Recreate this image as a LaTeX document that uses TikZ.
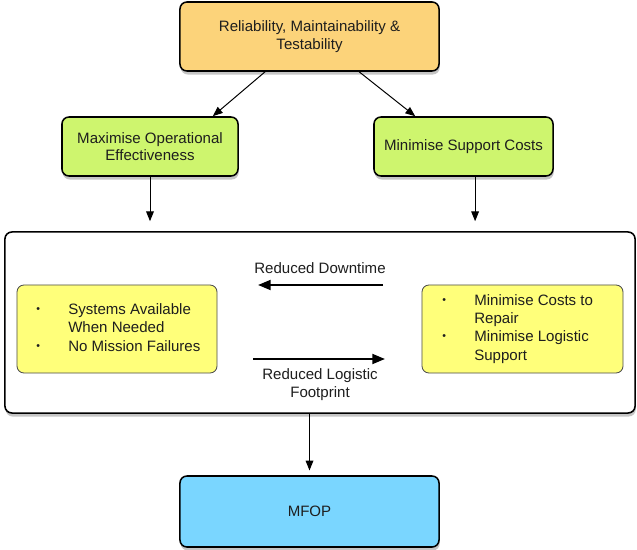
\documentclass[tikz,border=0pt]{standalone}
\usepackage{fontspec}
\setmainfont{Liberation Sans}
\usetikzlibrary{arrows.meta,shadows,calc}

\definecolor{rmtorange}{RGB}{252,211,122}
\definecolor{goalgreen}{RGB}{206,245,110}
\definecolor{listyellow}{RGB}{255,255,122}
\definecolor{mfopblue}{RGB}{122,214,255}
\definecolor{textgrey}{RGB}{30,30,30}

\newcommand{\lbullet}{\raisebox{0.25ex}{\scalebox{0.7}{\textbullet}}}

\tikzset{
  box/.style={draw=black, line width=1.1pt, rounded corners=5pt, align=center,
    text=textgrey, font=\fontsize{10.7}{12.4}\selectfont,
    drop shadow={shadow xshift=0.5pt, shadow yshift=-2.5pt, fill=black!45, opacity=0.5}},
  listbox/.style={draw=black!70, line width=0.6pt, rounded corners=5pt, fill=listyellow},
  txt/.style={text=textgrey, align=center, font=\fontsize{10.7}{12.4}\selectfont},
  listtxt/.style={text=textgrey, align=left, inner sep=0pt, font=\fontsize{10.7}{13.1}\selectfont},
  link/.style={-{Triangle[length=7pt,width=5.5pt]}, line width=0.7pt},
  flow/.style={-{Triangle[length=9pt,width=7pt]}, line width=1.6pt}
}

\begin{document}
\begin{tikzpicture}[x=0.025cm, y=-0.025cm]
\useasboundingbox (0,0) rectangle (637,550);

% top level
\node[box, fill=rmtorange, minimum width=6.475cm, minimum height=1.725cm] (rmt) at (309.5,36.5)
  {Reliability, Maintainability \&\\Testability};

% goals
\node[box, fill=goalgreen, minimum width=4.4cm, minimum height=1.475cm] (maxop) at (150,146.5)
  {Maximise Operational\\Effectiveness};
\node[box, fill=goalgreen, minimum width=4.475cm, minimum height=1.475cm] (minsup) at (463.5,146.5)
  {Minimise Support Costs};

% operations box
\node[box, fill=white, minimum width=15.75cm, minimum height=4.525cm] (ops) at (320,322.5) {};
\node[listbox, minimum width=5cm, minimum height=2.2cm] (lyel) at (117,329) {};
\node[listbox, minimum width=5.025cm, minimum height=2.2cm] (ryel) at (522.5,329) {};
\node[listtxt, anchor=west] (llist) at (36,329)
  {\begin{tabular}{@{}p{0.8cm}@{}l@{}}
  \lbullet & Systems Available\\ & When Needed\\ \lbullet & No Mission Failures
  \end{tabular}};
\node[listtxt, anchor=west] (rlist) at (442,329)
  {\begin{tabular}{@{}p{0.8cm}@{}l@{}}
  \lbullet & Minimise Costs to\\ & Repair\\ \lbullet & Minimise Logistic\\ & Support
  \end{tabular}};

\coordinate (dtstart) at (383,285);
\coordinate (dtend) at (258,285);
\coordinate (fpstart) at (253,359);
\coordinate (fpend) at (385,359);
\node[txt] (dtlabel) at (320,268) {Reduced Downtime};
\node[txt] (fplabel) at (320,384.5) {Reduced Logistic\\Footprint};

% result
\node[box, fill=mfopblue, minimum width=6.475cm, minimum height=1.775cm] (mfop) at (309.5,511.5) {MFOP};

% connectors
\draw[link] ([xshift=-1.11cm]rmt.south) -- ([xshift=-0.65cm]maxop.north east);
\draw[link] ([xshift=1.24cm]rmt.south) -- ([xshift=1.05cm]minsup.north west);
\draw[link, shorten >=0.25cm] (maxop.south) -- (maxop.south |- ops.north);
\draw[link, shorten >=0.25cm] ([xshift=0.29cm]minsup.south) -- ([xshift=0.29cm]minsup.south |- ops.north);
\draw[link, shorten >=0.12cm] (mfop.north |- ops.south) -- (mfop.north);
\draw[flow] (dtstart) -- (dtend);
\draw[flow] (fpstart) -- (fpend);
\end{tikzpicture}
\end{document}
